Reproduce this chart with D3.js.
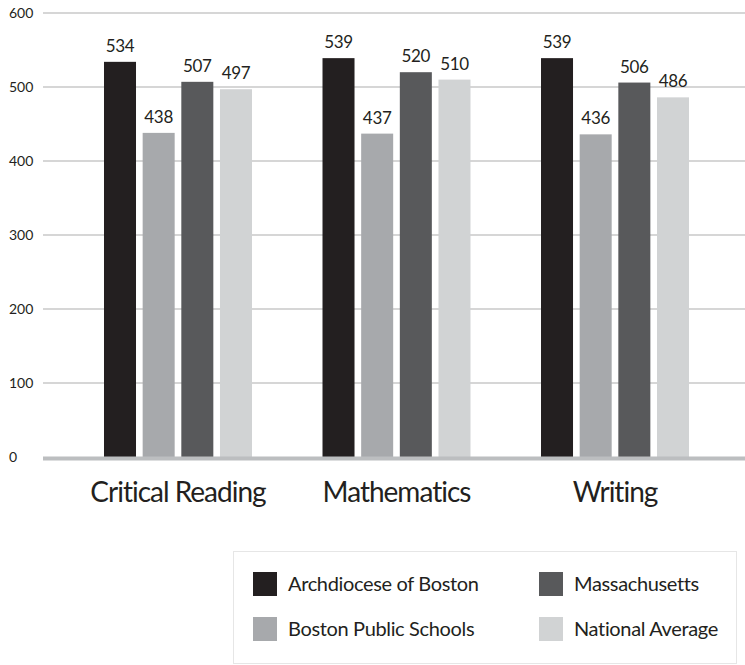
<!DOCTYPE html>
<html><head><meta charset="utf-8">
<script src="https://cdn.jsdelivr.net/npm/d3@7"></script>
<style>body{margin:0;background:#fff}svg{display:block}text{font-family:Lato,"Open Sans",sans-serif;fill:#231f20}</style>
</head><body>
<svg id="c" width="745" height="665"></svg>
<script>
const categories = ["Critical Reading", "Mathematics", "Writing"];
const seriesNames = ["Archdiocese of Boston", "Boston Public Schools", "Massachusetts", "National Average"];
const archdiocese = [534, 539, 539];
const bostonPublic = [438, 437, 436];
const massachusetts = [507, 520, 506];
const national = [497, 510, 486];
const yTicks = [0, 100, 200, 300, 400, 500, 600];
const colors = ["#231f20", "#a7a9ac", "#58595b", "#d1d3d4"];

const seriesValues = [archdiocese, bostonPublic, massachusetts, national];
const svg = d3.select("#c");
const y = d3.scaleLinear().domain([0, 600]).range([457, 13]);
const x0 = d3.scaleBand().domain(categories).range([68.75, 724.25]).paddingInner(0.3227).paddingOuter(0.1613);
const x1 = d3.scaleBand().domain(seriesNames).range([0, x0.bandwidth()]).paddingInner(0.172);

// gridlines
svg.append("g").selectAll("line").data(yTicks.filter(d => d > 0)).join("line")
  .attr("x1", 43).attr("x2", 745).attr("y1", d => y(d)).attr("y2", d => y(d))
  .attr("stroke", "#d6d6d6").attr("stroke-width", 2);
svg.append("g").selectAll("text").data(yTicks).join("text")
  .attr("x", 9).attr("y", d => y(d)).attr("dy", "0.35em")
  .attr("font-size", 14).text(d => d);

// bars
const groups = svg.append("g").selectAll("g").data(categories).join("g")
  .attr("transform", c => `translate(${x0(c)},0)`);
groups.each(function(c, ci) {
  const g = d3.select(this);
  const data = seriesNames.map((s, si) => ({s, si, v: seriesValues[si][ci]}));
  g.selectAll("rect").data(data).join("rect")
    .attr("x", d => x1(d.s)).attr("width", x1.bandwidth())
    .attr("y", d => y(d.v)).attr("height", d => y(0) - y(d.v))
    .attr("fill", d => colors[d.si]);
  g.selectAll("text.v").data(data).join("text").attr("class", "v")
    .attr("x", d => x1(d.s) + x1.bandwidth() / 2).attr("y", d => y(d.v) - 10)
    .attr("text-anchor", "middle").attr("font-size", 17).attr("letter-spacing", -0.3).text(d => d.v);
});

// baseline
svg.append("line").attr("x1", 43).attr("x2", 745).attr("y1", y(0) + 1.5).attr("y2", y(0) + 1.5)
  .attr("stroke", "#bcbec0").attr("stroke-width", 4);

// category labels
svg.append("g").selectAll("text").data(categories).join("text")
  .attr("x", c => x0(c) + x0.bandwidth() / 2).attr("y", 502)
  .attr("text-anchor", "middle").attr("font-size", 28).attr("letter-spacing", -1).text(c => c);

// legend
const lg = svg.append("g");
lg.append("rect").attr("x", 233.5).attr("y", 551.5).attr("width", 503).attr("height", 112)
  .attr("fill", "#fff").attr("stroke", "#e6e6e6");
const legendPos = [[253, 572], [253, 617], [539, 572], [539, 617]];
seriesNames.forEach((s, i) => {
  const [lx, ly] = legendPos[i];
  lg.append("rect").attr("x", lx).attr("y", ly).attr("width", 24).attr("height", 24).attr("fill", colors[i]);
  lg.append("text").attr("x", lx + 35).attr("y", ly + 12).attr("dy", "0.35em")
    .attr("font-size", 20).attr("letter-spacing", -0.35).text(s);
});
</script>
</body></html>
